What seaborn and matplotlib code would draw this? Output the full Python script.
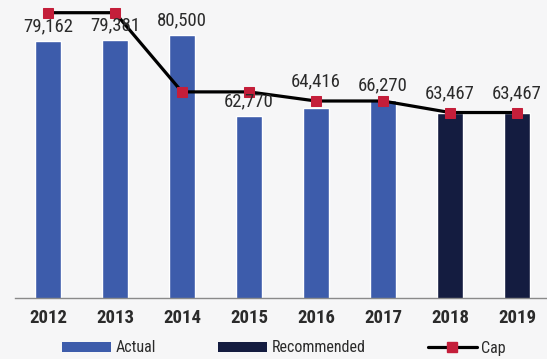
import matplotlib
matplotlib.use("Agg")
import matplotlib.pyplot as plt
from matplotlib import font_manager
from matplotlib.patches import Patch
from matplotlib.lines import Line2D
import numpy as np
import pandas as pd
import seaborn as sns

years = ["2012", "2013", "2014", "2015", "2016", "2017", "2018", "2019"]
values = [79162, 79381, 80500, 62770, 64416, 66270, 63467, 63467]
kinds = ["Actual", "Actual", "Actual", "Actual", "Actual", "Actual",
         "Recommended", "Recommended"]
cap = [85400, 85400, 68000, 68000, 66000, 66000, 63467, 63467]

ACTUAL = "#3d5cab"
RECOMMENDED = "#141c40"
CAP_MARK = "#c41e3a"
BG = "#f6f6f7"
TXT = "#2b2b2b"

sns.set_theme(style="white")
installed = {f.name for f in font_manager.fontManager.ttflist}
narrow = [n for n in ["Roboto Condensed", "Liberation Sans Narrow",
                      "DejaVu Sans Condensed", "Open Sans Condensed"] if n in installed]
plt.rcParams["font.family"] = narrow + ["DejaVu Sans"]
stretch = "normal" if narrow else "condensed"

df = pd.DataFrame({"year": years, "value": values, "kind": kinds})

fig = plt.figure(figsize=(5.47, 3.59), dpi=100, facecolor=BG)
ax = fig.add_axes([14.5 / 547, (359 - 298.3) / 359, 536 / 547, 298.3 / 359])
ax.set_facecolor(BG)

sns.barplot(data=df, x="year", y="value", hue="kind", dodge=False,
            palette={"Actual": ACTUAL, "Recommended": RECOMMENDED},
            width=0.39, saturation=1, legend=False, ax=ax)

pos = np.arange(len(years))
sns.lineplot(x=pos, y=cap, color="black", linewidth=2.3, marker="s",
             markersize=7.5, markerfacecolor=CAP_MARK,
             markeredgecolor=CAP_MARK, ax=ax, zorder=4)

ax.set_xlim(-0.5, len(years) - 0.5)
ax.set_ylim(22650, 88190)

# value labels: above the bar, or above the cap when the cap sits just over it
for i, (v, c) in enumerate(zip(values, cap)):
    if 0 <= c - v < 3000:
        base, off = c, 14.0
    else:
        base, off = v, 10.5
    ax.annotate(f"{v:,}", (i, base), xytext=(0, off), textcoords="offset points",
                ha="center", va="center", fontsize=13.5, color=TXT,
                fontstretch=stretch, zorder=5)

for s in ["top", "right", "left"]:
    ax.spines[s].set_visible(False)
ax.spines["bottom"].set_color("#8a8a8a")
ax.spines["bottom"].set_linewidth(1.0)
ax.set_yticks([])
ax.set_xlabel("")
ax.set_ylabel("")
ax.set_xticks(pos)
ax.set_xticklabels(years, fontsize=13.5, color=TXT, fontweight="bold",
                   fontstretch=stretch)
ax.tick_params(axis="x", length=0, pad=8)
ax.set_xticks(np.arange(-0.5, len(years)), minor=True)
ax.tick_params(axis="x", which="minor", length=4, width=1.0,
               color="#8a8a8a", direction="out")

handles = [
    Patch(facecolor=ACTUAL, edgecolor="none", label="Actual"),
    Patch(facecolor=RECOMMENDED, edgecolor="none", label="Recommended"),
    Line2D([0], [0], color="black", linewidth=2.3, marker="s", markersize=7.5,
           markerfacecolor=CAP_MARK, markeredgecolor=CAP_MARK, label="Cap"),
]
fig.legend(handles=handles, loc="center", bbox_to_anchor=(284 / 547, 1 - 348 / 359),
           ncol=3, frameon=False, fontsize=11.5, handlelength=3.05, handleheight=0.6,
           handletextpad=0.3, columnspacing=3.9, labelcolor=TXT)

fig.savefig("out.png", dpi=100, facecolor=BG)
